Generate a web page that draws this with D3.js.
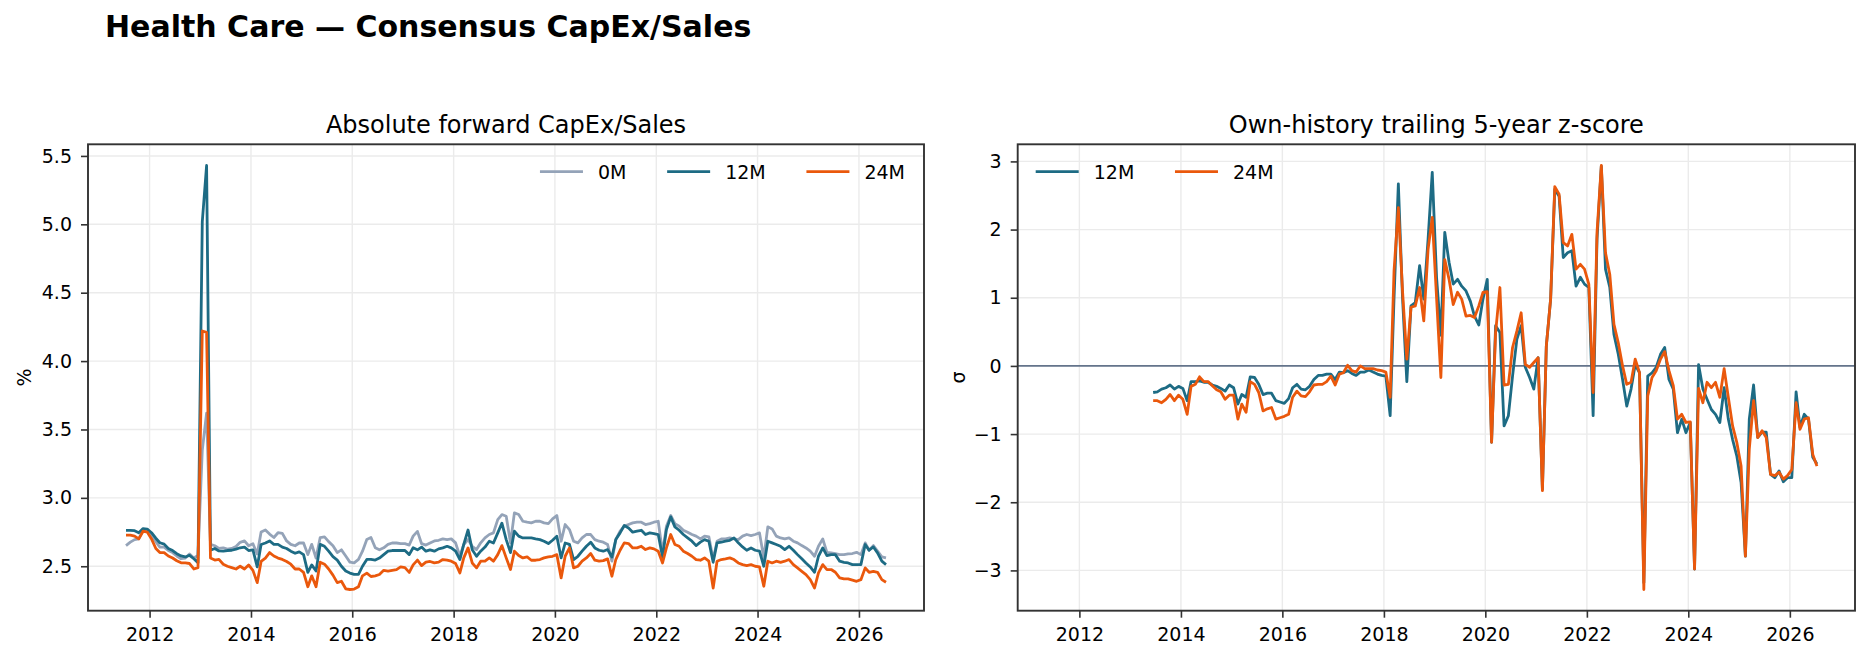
<!DOCTYPE html>
<html>
<head>
<meta charset="utf-8">
<script src="https://cdn.jsdelivr.net/npm/d3@7/dist/d3.min.js"></script>
<style>
  body { margin: 0; background: #fff; }
  svg { display: block; font-family: "DejaVu Sans", sans-serif; }
  .tick text { font-size: 19px; fill: #000; }
  .tick line { stroke: #333; stroke-width: 1.6px; }
  .grid line { stroke: #ebebeb; stroke-width: 1.4px; }
  .frame { fill: none; stroke: #333; stroke-width: 1.9px; }
  .series { fill: none; stroke-width: 2.8px; stroke-linejoin: round; }
  .sub-title { font-size: 24px; fill: #000; text-anchor: middle; }
  .legend text { font-size: 19px; fill: #000; }
</style>
</head>
<body>
<svg id="chart" width="1869" height="659"></svg>
<script>
// monthly observations, Jul 2011 .. Jul 2026
var firstMonth = [2011, 6];
var nMonths = 181;
var zStartIndex = 23;   // z-score starts Jun 2013

var seriesNames = ["0M", "12M", "24M"];
var seriesColors = { "0M": "#94a3b8", "12M": "#1d6b84", "24M": "#ea580c" };

var xTickYears = [2012, 2014, 2016, 2018, 2020, 2022, 2024, 2026];
var yTicksLeft = [2.5, 3.0, 3.5, 4.0, 4.5, 5.0, 5.5];
var yTicksRight = [-3, -2, -1, 0, 1, 2, 3];

var capex0M = [
  2.651, 2.676, 2.695, 2.700, 2.760, 2.770,
  2.730, 2.680, 2.640, 2.640, 2.615, 2.600, 2.575, 2.555, 2.560, 2.590, 2.560, 2.580,
  3.350, 3.620, 2.660, 2.650, 2.630, 2.635, 2.625, 2.630, 2.645, 2.675, 2.685, 2.650,
  2.665, 2.590, 2.750, 2.765, 2.735, 2.710, 2.745, 2.740, 2.685, 2.660, 2.650, 2.670,
  2.670, 2.585, 2.660, 2.560, 2.710, 2.715, 2.680, 2.650, 2.600, 2.620, 2.575, 2.530,
  2.525, 2.550, 2.610, 2.695, 2.710, 2.635, 2.620, 2.635, 2.660, 2.670, 2.670, 2.665,
  2.665, 2.655, 2.720, 2.755, 2.665, 2.655, 2.670, 2.685, 2.690, 2.700, 2.695, 2.700,
  2.671, 2.573, 2.659, 2.695, 2.646, 2.622, 2.671, 2.707, 2.732, 2.744, 2.841, 2.878,
  2.866, 2.671, 2.890, 2.878, 2.829, 2.822, 2.817, 2.829, 2.829, 2.817, 2.812, 2.846,
  2.871, 2.683, 2.805, 2.768, 2.683, 2.671, 2.707, 2.732, 2.732, 2.695, 2.683, 2.676,
  2.659, 2.537, 2.695, 2.756, 2.793, 2.805, 2.817, 2.822, 2.822, 2.805, 2.812, 2.822,
  2.829, 2.598, 2.793, 2.871, 2.812, 2.793, 2.763, 2.749, 2.732, 2.720, 2.700, 2.720,
  2.715, 2.549, 2.683, 2.700, 2.700, 2.707, 2.700, 2.695, 2.720, 2.732, 2.724, 2.732,
  2.744, 2.561, 2.788, 2.773, 2.720, 2.707, 2.700, 2.707, 2.683, 2.671, 2.651, 2.634,
  2.610, 2.573, 2.646, 2.700, 2.602, 2.598, 2.593, 2.585, 2.585, 2.590, 2.593, 2.602,
  2.585, 2.671, 2.617, 2.651, 2.610, 2.568, 2.561
];

var capex12M = [
  2.763, 2.763, 2.760, 2.745, 2.775, 2.772,
  2.745, 2.705, 2.672, 2.662, 2.630, 2.615, 2.592, 2.575, 2.568, 2.580, 2.555, 2.525,
  5.020, 5.430, 2.617, 2.630, 2.612, 2.610, 2.615, 2.617, 2.625, 2.635, 2.640, 2.615,
  2.620, 2.495, 2.659, 2.670, 2.685, 2.660, 2.660, 2.640, 2.630, 2.610, 2.595, 2.605,
  2.585, 2.455, 2.510, 2.465, 2.660, 2.646, 2.610, 2.570, 2.545, 2.500, 2.465, 2.450,
  2.440, 2.440, 2.500, 2.550, 2.550, 2.545, 2.560, 2.585, 2.610, 2.615, 2.615, 2.615,
  2.615, 2.585, 2.635, 2.620, 2.640, 2.610, 2.620, 2.610, 2.627, 2.634, 2.646, 2.634,
  2.610, 2.549, 2.660, 2.765, 2.620, 2.573, 2.610, 2.640, 2.683, 2.670, 2.744, 2.815,
  2.695, 2.600, 2.756, 2.720, 2.707, 2.707, 2.707, 2.700, 2.695, 2.683, 2.666, 2.690,
  2.720, 2.561, 2.670, 2.660, 2.549, 2.573, 2.610, 2.646, 2.676, 2.634, 2.617, 2.610,
  2.622, 2.568, 2.695, 2.744, 2.798, 2.780, 2.749, 2.756, 2.763, 2.732, 2.744, 2.739,
  2.732, 2.568, 2.768, 2.861, 2.788, 2.763, 2.732, 2.707, 2.683, 2.651, 2.676, 2.695,
  2.683, 2.529, 2.671, 2.676, 2.683, 2.690, 2.707, 2.671, 2.641, 2.617, 2.634, 2.617,
  2.610, 2.500, 2.683, 2.671, 2.659, 2.646, 2.622, 2.646, 2.617, 2.585, 2.554, 2.524,
  2.495, 2.456, 2.573, 2.634, 2.578, 2.585, 2.585, 2.537, 2.529, 2.524, 2.512, 2.512,
  2.512, 2.659, 2.617, 2.641, 2.598, 2.537, 2.512
];

var capex24M = [
  2.727, 2.727, 2.720, 2.700, 2.756, 2.750,
  2.700, 2.630, 2.600, 2.600, 2.575, 2.560, 2.540, 2.525, 2.524, 2.520, 2.480, 2.490,
  4.220, 4.210, 2.560, 2.545, 2.550, 2.515, 2.500, 2.490, 2.480, 2.500, 2.480, 2.510,
  2.470, 2.380, 2.535, 2.560, 2.600, 2.575, 2.560, 2.550, 2.535, 2.515, 2.480, 2.480,
  2.455, 2.350, 2.430, 2.350, 2.530, 2.515, 2.480, 2.435, 2.380, 2.390, 2.335, 2.330,
  2.333, 2.350, 2.430, 2.450, 2.425, 2.430, 2.440, 2.470, 2.465, 2.470, 2.475, 2.495,
  2.490, 2.455, 2.510, 2.545, 2.505, 2.530, 2.535, 2.525, 2.530, 2.549, 2.544, 2.537,
  2.520, 2.451, 2.561, 2.634, 2.524, 2.488, 2.537, 2.537, 2.561, 2.537, 2.585, 2.651,
  2.561, 2.476, 2.610, 2.578, 2.561, 2.568, 2.544, 2.544, 2.549, 2.561, 2.568, 2.573,
  2.585, 2.415, 2.573, 2.634, 2.488, 2.500, 2.537, 2.561, 2.593, 2.544, 2.537, 2.541,
  2.554, 2.427, 2.549, 2.617, 2.671, 2.666, 2.634, 2.634, 2.646, 2.622, 2.634, 2.627,
  2.610, 2.524, 2.634, 2.732, 2.659, 2.646, 2.610, 2.593, 2.573, 2.549, 2.544, 2.561,
  2.537, 2.341, 2.537, 2.549, 2.554, 2.561, 2.549, 2.524, 2.512, 2.505, 2.512, 2.500,
  2.495, 2.354, 2.537, 2.524, 2.537, 2.529, 2.537, 2.549, 2.512, 2.488, 2.463, 2.439,
  2.402, 2.341, 2.451, 2.512, 2.476, 2.476, 2.456, 2.415, 2.407, 2.407, 2.398, 2.390,
  2.402, 2.488, 2.456, 2.463, 2.456, 2.402, 2.383
];

var z12M = [
  -0.39, -0.38, -0.34, -0.32, -0.28, -0.34, -0.30,
  -0.33, -0.51, -0.23, -0.23, -0.22, -0.24, -0.24, -0.28, -0.30, -0.33, -0.37, -0.28,
  -0.32, -0.56, -0.42, -0.46, -0.16, -0.17, -0.27, -0.42, -0.40, -0.40, -0.51, -0.53,
  -0.55, -0.48, -0.32, -0.27, -0.34, -0.35, -0.30, -0.20, -0.14, -0.14, -0.12, -0.12,
  -0.20, -0.09, -0.10, -0.07, -0.11, -0.14, -0.09, -0.09, -0.06, -0.09, -0.12, -0.14,
  -0.15, -0.73, 1.00, 2.67, 1.00, -0.23, 0.88, 0.93, 1.47, 0.98, 1.86, 2.84,
  1.30, 0.45, 1.96, 1.52, 1.20, 1.27, 1.17, 1.10, 0.95, 0.73, 0.60, 0.98,
  1.27, -1.12, 0.59, 0.49, -0.88, -0.73, -0.15, 0.39, 0.59, -0.02, -0.17, -0.34,
  0.12, -1.81, 0.29, 0.98, 2.59, 2.49, 1.59, 1.66, 1.69, 1.17, 1.30, 1.20,
  1.15, -0.73, 1.86, 2.93, 1.42, 1.15, 0.46, 0.17, -0.20, -0.59, -0.34, 0.02,
  -0.10, -3.18, -0.15, -0.10, -0.02, 0.17, 0.27, -0.20, -0.34, -0.98, -0.78, -0.98,
  -0.83, -2.98, 0.02, -0.34, -0.49, -0.64, -0.71, -0.83, -0.32, -0.78, -1.08, -1.32,
  -1.71, -2.79, -0.78, -0.28, -1.05, -0.97, -0.97, -1.59, -1.64, -1.54, -1.70, -1.64,
  -1.64, -0.38, -0.90, -0.71, -0.78, -1.34, -1.44
];

var z24M = [
  -0.51, -0.51, -0.54, -0.49, -0.42, -0.51, -0.43,
  -0.49, -0.71, -0.30, -0.27, -0.16, -0.23, -0.23, -0.29, -0.35, -0.38, -0.49, -0.43,
  -0.43, -0.78, -0.56, -0.68, -0.23, -0.27, -0.39, -0.66, -0.63, -0.61, -0.78, -0.76,
  -0.74, -0.71, -0.46, -0.37, -0.44, -0.45, -0.38, -0.28, -0.27, -0.27, -0.23, -0.15,
  -0.28, -0.12, -0.10, 0.01, -0.07, -0.09, 0.00, -0.04, -0.04, -0.04, -0.06, -0.07,
  -0.09, -0.46, 1.40, 2.32, 1.10, 0.10, 0.86, 0.88, 1.15, 0.66, 1.71, 2.18,
  1.00, -0.17, 1.56, 1.27, 0.90, 1.08, 0.98, 0.73, 0.74, 0.71, 0.88, 1.08,
  1.09, -1.12, 0.49, 1.15, -0.28, -0.27, 0.27, 0.51, 0.78, 0.02, -0.02, 0.05,
  0.12, -1.83, 0.29, 0.98, 2.63, 2.52, 1.81, 1.76, 1.93, 1.42, 1.49, 1.42,
  1.20, -0.39, 1.96, 2.94, 1.66, 1.34, 0.61, 0.34, 0.00, -0.27, -0.24, 0.10,
  -0.10, -3.28, -0.44, -0.17, -0.07, 0.10, 0.21, -0.07, -0.29, -0.78, -0.71, -0.83,
  -0.82, -2.98, -0.33, -0.54, -0.24, -0.32, -0.24, -0.46, -0.04, -0.46, -0.88, -1.12,
  -1.47, -2.79, -1.22, -0.51, -1.05, -0.95, -1.05, -1.59, -1.61, -1.56, -1.66, -1.61,
  -1.52, -0.54, -0.93, -0.78, -0.76, -1.30, -1.47
];

var months = d3.range(nMonths).map(function(k) {
  return new Date(firstMonth[0], firstMonth[1] + k, 15);
});

function toPoints(values, offset) {
  return values.map(function(v, i) { return { date: months[i + offset], value: v }; });
}

var leftSeries = [
  { name: "0M", points: toPoints(capex0M, 0) },
  { name: "12M", points: toPoints(capex12M, 0) },
  { name: "24M", points: toPoints(capex24M, 0) }
];
var rightSeries = [
  { name: "12M", points: toPoints(z12M, zStartIndex) },
  { name: "24M", points: toPoints(z24M, zStartIndex) }
];

var svg = d3.select("#chart");

svg.append("text")
    .attr("x", 105)
    .attr("y", 37)
    .style("font-size", "30px")
    .style("font-weight", "bold")
    .text("Health Care \u2014 Consensus CapEx/Sales");

var plotTop = 144.3, plotBottom = 610.7;
var panels = [
  { left: 88, right: 924, series: leftSeries, ticks: yTicksLeft, fmt: d3.format(".1f"),
    title: "Absolute forward CapEx/Sales", ylabel: "%", labelX: 24, zero: false, legend: "right" },
  { left: 1017.7, right: 1855, series: rightSeries, ticks: yTicksRight, fmt: function(d) { return d3.format("d")(d).replace("-", "\u2212"); },
    title: "Own-history trailing 5-year z-score", ylabel: "\u03c3", labelX: 958, zero: true, legend: "left" }
];

var xExtent = d3.extent(months);
var xPad = (xExtent[1] - xExtent[0]) * 0.05;
var xDomain = [new Date(+xExtent[0] - xPad), new Date(+xExtent[1] + xPad)];

panels.forEach(function(p) {
  var w = p.right - p.left, h = plotBottom - plotTop;
  var g = svg.append("g").attr("transform", "translate(" + p.left + "," + plotTop + ")");

  var x = d3.scaleTime().domain(xDomain).range([0, w]);
  var all = [];
  p.series.forEach(function(s) { s.points.forEach(function(d) { all.push(d.value); }); });
  var ext = d3.extent(all), pad = (ext[1] - ext[0]) * 0.05;
  var y = d3.scaleLinear().domain([ext[0] - pad, ext[1] + pad]).range([h, 0]);

  var xTicks = xTickYears.map(function(yr) { return new Date(yr, 0, 1); });

  // grid
  var grid = g.append("g").attr("class", "grid");
  grid.selectAll(".gx").data(xTicks).enter().append("line")
      .attr("x1", function(d) { return x(d); }).attr("x2", function(d) { return x(d); })
      .attr("y1", 0).attr("y2", h);
  grid.selectAll(".gy").data(p.ticks).enter().append("line")
      .attr("x1", 0).attr("x2", w)
      .attr("y1", function(d) { return y(d); }).attr("y2", function(d) { return y(d); });

  if (p.zero) {
    g.append("line")
        .attr("x1", 0).attr("x2", w)
        .attr("y1", y(0)).attr("y2", y(0))
        .attr("stroke", "#64748b").attr("stroke-width", 1.7);
  }

  var line = d3.line()
      .x(function(d) { return x(d.date); })
      .y(function(d) { return y(d.value); });

  g.selectAll(".series")
      .data(p.series)
    .enter().append("path")
      .attr("class", "series")
      .attr("stroke", function(d) { return seriesColors[d.name]; })
      .attr("d", function(d) { return line(d.points); });

  var xAxis = d3.axisBottom(x)
      .tickValues(xTicks)
      .tickFormat(d3.timeFormat("%Y"))
      .tickSize(7).tickPadding(9.5);
  g.append("g")
      .attr("transform", "translate(0," + h + ")")
      .call(xAxis)
      .call(function(a) { a.select(".domain").remove(); a.attr("font-family", null).attr("font-size", null); });

  var yAxis = d3.axisLeft(y)
      .tickValues(p.ticks)
      .tickFormat(p.fmt)
      .tickSize(7).tickPadding(9);
  g.append("g")
      .call(yAxis)
      .call(function(a) { a.select(".domain").remove(); a.attr("font-family", null).attr("font-size", null); });

  g.append("rect").attr("class", "frame")
      .attr("width", w).attr("height", h);

  svg.append("text")
      .attr("class", "sub-title")
      .attr("x", p.left + w / 2)
      .attr("y", 133)
      .text(p.title);

  svg.append("text")
      .attr("transform", "translate(" + p.labelX + "," + (plotTop + h / 2) + ") rotate(-90)")
      .style("font-size", "19px")
      .style("text-anchor", "middle")
      .attr("dy", "0.35em")
      .text(p.ylabel);

  // legend, one row
  var lg = g.append("g").attr("class", "legend");
  var cursor = 0;
  p.series.forEach(function(s) {
    var item = lg.append("g").attr("transform", "translate(" + cursor + ",0)");
    item.append("line")
        .attr("x1", 0).attr("x2", 43).attr("y1", 0).attr("y2", 0)
        .attr("stroke", seriesColors[s.name]).attr("stroke-width", 2.8);
    var t = item.append("text")
        .attr("x", 58).attr("dy", "0.36em")
        .text(s.name);
    cursor += 58 + t.node().getComputedTextLength() + 40.7;
  });
  var total = cursor - 40.7;
  var lx = p.legend === "right" ? w - 19 - total : 18;
  lg.attr("transform", "translate(" + lx + "," + (171.7 - plotTop) + ")");
});
</script>
</body>
</html>
